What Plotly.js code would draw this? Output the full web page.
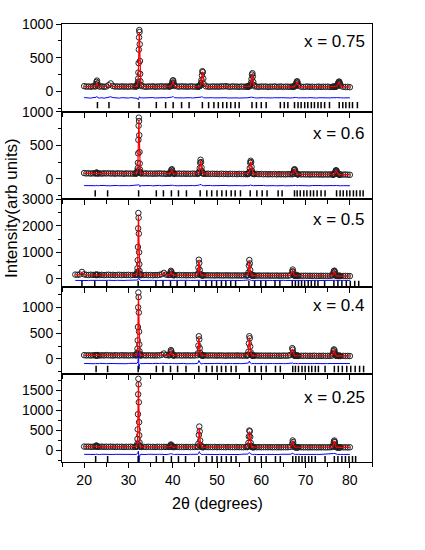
<!DOCTYPE html>
<html>
<head>
<meta charset="utf-8">
<script src="https://cdn.plot.ly/plotly-3.0.1.min.js"></script>
<style>html,body{margin:0;padding:0;background:#fff;}#chart{width:425px;height:550px;}</style>
</head>
<body>
<div id="chart"></div>
<script>
// 2-theta grid shared by all patterns (degrees)
const twoTheta = [
  18.0, 18.5, 19.0, 19.5,
  20.0, 20.5, 21.0, 21.5, 22.0,
  22.5, 22.6, 22.7, 22.8, 22.9, 23.0, 23.1,
  23.5, 24.0, 24.5, 25.0, 25.5, 26.0, 26.5, 27.0, 27.5, 28.0, 28.5, 29.0, 29.5, 30.0, 30.5, 31.0, 31.5,
  31.7, 31.8, 31.9, 31.95, 32.0, 32.05, 32.1, 32.15, 32.2, 32.25, 32.3, 32.35, 32.4, 32.45, 32.5, 32.55, 32.6, 32.65, 32.7, 32.8, 32.9,
  33.5, 34.0, 34.5, 35.0, 35.5, 36.0, 36.5, 37.0, 37.5, 38.0, 38.5, 39.0,
  39.3, 39.4, 39.5, 39.6, 39.7, 39.8, 39.9, 40.0, 40.1, 40.2, 40.3, 40.4,
  41.0, 41.5, 42.0, 42.5, 43.0, 43.5, 44.0, 44.5, 45.0,
  45.6, 45.7, 45.8, 45.9, 46.0, 46.1, 46.2, 46.3, 46.4, 46.5, 46.6, 46.7, 46.8, 46.9, 47.0,
  47.5, 48.0, 48.5, 49.0, 49.5, 50.0, 50.5, 51.0, 51.5, 52.0, 52.5, 53.0, 53.5, 54.0, 54.5, 55.0, 55.5, 56.0, 56.5,
  56.8, 56.9, 57.0, 57.1, 57.2, 57.3, 57.4, 57.5, 57.6, 57.7, 57.8, 57.9, 58.0, 58.1, 58.2, 58.3,
  58.5, 59.0, 59.5, 60.0, 60.5, 61.0, 61.5, 62.0, 62.5, 63.0, 63.5, 64.0, 64.5, 65.0, 65.5, 66.0, 66.5,
  67.0, 67.1, 67.2, 67.3, 67.4, 67.5, 67.6, 67.7, 67.8, 67.9, 68.0, 68.1, 68.2, 68.3, 68.4,
  69.0, 69.5, 70.0, 70.5, 71.0, 71.5, 72.0, 72.5, 73.0, 73.5, 74.0, 74.5, 75.0, 75.5, 76.0,
  76.2, 76.3, 76.4, 76.5, 76.6, 76.7, 76.8, 76.9, 77.0, 77.1, 77.2, 77.3, 77.4, 77.5, 77.6, 77.7, 77.8, 77.9,
  78.5, 79.0, 79.5, 80.0
];

const N = null;

// ---------- x = 0.75 ----------
const obs1 = [
  N, N, N, N,
  78, 70, 74, 68, 76,
  72, 80, 105, 140, 160, 120, 85,
  70, 75, 68, 73, 92, 118, 80, 71, 74, 69, 75, 70, 73, 68, 76, 71, 74,
  72, 75, 80, 85, 92, 100, 115, 140, 190, 280, 420, 620, 800, 910, 880, 700, 450, 260, 150, 95, 78,
  72, 68, 74, 70, 76, 69, 73, 71, 77, 70, 74, 72,
  73, 75, 78, 82, 90, 105, 130, 158, 165, 130, 95, 80,
  74, 70, 76, 71, 73, 69, 75, 72, 70,
  72, 70, 74, 73, 76, 80, 88, 100, 125, 170, 240, 300, 285, 190, 110,
  75, 71, 68, 74, 70, 73, 69, 76, 72, 78, 71, 68, 74, 70, 72, 67, 73, 69, 71,
  70, 72, 70, 74, 73, 76, 80, 88, 100, 130, 185, 250, 270, 220, 140, 95,
  75, 70, 68, 73, 69, 72, 66, 71, 68, 74, 67, 70, 72, 66, 71, 69, 68,
  70, 68, 72, 70, 73, 75, 80, 88, 100, 120, 142, 150, 130, 100, 82,
  70, 66, 69, 72, 67, 70, 65, 68, 71, 66, 69, 67, 70, 65, 68,
  67, 70, 66, 69, 68, 71, 70, 74, 78, 85, 95, 110, 128, 142, 145, 125, 100, 82,
  68, 65, 67, 62
];
const calc1 = [
  N, N, N, N,
  72, 72, 72, 72, 72,
  72, 78, 95, 118, 128, 100, 80,
  73, 72, 72, 72, 76, 90, 74, 72, 72, 71, 71, 71, 71, 71, 71, 71, 71,
  72, 73, 75, 78, 83, 92, 105, 130, 180, 270, 410, 610, 790, 880, 850, 680, 430, 250, 145, 90, 76,
  71, 71, 71, 71, 71, 71, 71, 71, 71, 71, 71, 71,
  71, 72, 74, 77, 84, 98, 120, 145, 150, 120, 90, 76,
  71, 71, 71, 71, 70, 70, 70, 70, 70,
  70, 70, 71, 71, 72, 75, 82, 95, 120, 165, 235, 290, 278, 190, 110,
  72, 70, 70, 70, 70, 70, 70, 70, 70, 70, 70, 70, 70, 70, 70, 69, 69, 69, 69,
  69, 69, 69, 70, 70, 72, 76, 84, 96, 125, 180, 240, 258, 210, 135, 92,
  72, 69, 69, 69, 69, 69, 68, 68, 68, 68, 68, 68, 68, 68, 68, 68, 68,
  68, 68, 68, 68, 69, 70, 74, 82, 95, 115, 135, 142, 124, 96, 80,
  68, 68, 67, 67, 67, 67, 67, 67, 67, 67, 67, 67, 67, 67, 67,
  67, 67, 67, 67, 67, 67, 68, 70, 74, 80, 90, 105, 122, 136, 138, 120, 96, 80,
  67, 66, 66, 66
];
const diff1 = [
  N, N, N, N,
  -92, -98, -95, -100, -93,
  -97, -90, -88, -80, -75, -85, -95,
  -99, -94, -101, -96, -88, -80, -92, -98, -95, -100, -93, -97, -94, -99, -92, -96, -94,
  -95, -93, -96, -98, -100, -104, -110, -118, -125, -120, -112, -105, -95, -88, -80, -85, -92, -97, -96, -94, -95,
  -97, -93, -99, -95, -92, -98, -94, -100, -96, -93, -97, -95,
  -94, -96, -92, -90, -88, -85, -80, -75, -78, -85, -90, -94,
  -96, -99, -93, -97, -95, -100, -94, -98, -96,
  -97, -94, -96, -93, -95, -92, -90, -88, -85, -80, -75, -82, -88, -92, -95,
  -96, -93, -98, -94, -97, -95, -99, -93, -96, -94, -98, -95, -97, -93, -96, -99, -94, -97, -95,
  -96, -94, -97, -95, -93, -96, -94, -92, -90, -88, -85, -87, -90, -92, -94, -96,
  -95, -98, -94, -97, -93, -96, -99, -95, -97, -94, -98, -95, -93, -97, -96, -94, -98,
  -96, -94, -97, -95, -93, -96, -94, -92, -90, -91, -93, -92, -94, -95, -97,
  -95, -98, -94, -96, -93, -97, -95, -99, -94, -96, -93, -98, -95, -97, -94,
  -96, -94, -97, -95, -93, -96, -95, -94, -92, -93, -95, -94, -93, -92, -94, -95, -96, -95,
  -97, -94, -96, -95
];
const bragg1 = [23.0, 25.6, 32.4, 36.3, 38.4, 40.1, 42.0, 43.7, 46.7, 48.1, 49.3, 50.3, 51.3, 52.2, 53.1, 54.1, 55.0,
  57.9, 58.9, 60.0, 61.1, 64.3, 65.2, 66.0, 67.5, 68.3, 69.0, 69.8, 70.5, 71.3, 72.0, 72.8, 73.5, 74.3, 75.4,
  77.6, 78.4, 79.1, 79.9, 80.6, 81.7];

// ---------- x = 0.6 ----------
const obs2 = [
  N, N, N, N,
  88, 82, 86, 80, 84,
  82, 86, 90, 95, 92, 85, 80,
  84, 79, 85, 81, 86, 80, 83, 78, 84, 80, 82, 77, 83, 79, 81, 78, 82,
  80, 84, 88, 95, 105, 125, 160, 240, 380, 580, 790, 910, 860, 650, 400, 230, 140, 105, 92, 85, 81,
  80, 83, 78, 82, 77, 81, 79, 84, 78, 80, 76, 81,
  79, 82, 86, 105, 135, 145, 120, 96, 86, 81, 78, 80,
  78, 81, 76, 80, 77, 79, 75, 80, 77,
  78, 80, 83, 90, 110, 160, 240, 285, 250, 170, 115, 92, 84, 80, 78,
  76, 79, 74, 78, 75, 77, 73, 78, 74, 76, 72, 77, 74, 75, 71, 76, 73, 74, 72,
  73, 75, 74, 78, 85, 105, 160, 240, 270, 250, 180, 120, 95, 82, 77, 74,
  72, 75, 71, 74, 70, 73, 69, 72, 70, 73, 68, 72, 69, 71, 68, 72, 70,
  70, 74, 82, 100, 130, 145, 135, 110, 90, 80, 75, 72, 70, 71, 69,
  68, 71, 67, 70, 66, 69, 67, 70, 66, 68, 65, 69, 66, 68, 67,
  66, 68, 67, 72, 80, 100, 122, 130, 120, 100, 85, 76, 70, 68, 66, 67, 65, 66,
  65, 67, 63, 62
];
const calc2 = [
  N, N, N, N,
  84, 83, 83, 82, 82,
  82, 83, 85, 87, 86, 83, 82,
  81, 81, 81, 81, 80, 80, 80, 80, 80, 80, 79, 79, 79, 79, 79, 79, 79,
  79, 80, 83, 89, 98, 118, 152, 232, 370, 565, 770, 880, 830, 630, 385, 220, 132, 100, 88, 82, 80,
  79, 79, 79, 78, 78, 78, 78, 78, 78, 78, 78, 78,
  78, 79, 83, 100, 128, 138, 114, 92, 83, 79, 78, 78,
  77, 77, 77, 77, 77, 76, 76, 76, 76,
  76, 77, 79, 86, 105, 152, 230, 272, 240, 162, 110, 89, 81, 78, 77,
  75, 75, 75, 75, 75, 74, 74, 74, 74, 74, 74, 74, 73, 73, 73, 73, 73, 73, 73,
  73, 73, 73, 75, 82, 100, 152, 230, 258, 238, 172, 115, 90, 79, 75, 73,
  72, 72, 72, 71, 71, 71, 71, 71, 70, 70, 70, 70, 70, 70, 69, 69, 69,
  69, 72, 80, 97, 125, 138, 128, 105, 87, 77, 73, 71, 70, 69, 69,
  68, 68, 68, 68, 67, 67, 67, 67, 67, 67, 66, 66, 66, 66, 66,
  66, 66, 66, 70, 78, 96, 116, 124, 114, 96, 82, 74, 69, 67, 66, 66, 66, 65,
  65, 65, 64, 64
];
const diff2 = [
  N, N, N, N,
  -98, -101, -97, -102, -99,
  -100, -97, -95, -92, -94, -98, -101,
  -97, -102, -96, -100, -95, -101, -98, -103, -97, -100, -96, -102, -98, -101, -99, -102, -97,
  -100, -96, -95, -94, -93, -93, -92, -92, -90, -88, -85, -80, -82, -87, -95, -110, -115, -105, -100, -97, -99,
  -99, -96, -101, -97, -102, -98, -100, -95, -101, -98, -103, -97,
  -99, -97, -95, -92, -88, -85, -88, -93, -97, -99, -100, -98,
  -101, -97, -102, -98, -100, -96, -101, -97, -100,
  -98, -97, -96, -94, -90, -85, -80, -75, -82, -90, -95, -97, -98, -99, -100,
  -97, -101, -96, -100, -98, -102, -97, -99, -101, -96, -100, -98, -102, -97, -100, -98, -101, -97, -99,
  -100, -98, -101, -97, -99, -96, -94, -92, -90, -93, -97, -99, -100, -98, -101, -99,
  -98, -101, -97, -100, -96, -101, -98, -102, -97, -99, -101, -97, -100, -98, -102, -97, -100,
  -99, -97, -95, -93, -90, -88, -92, -95, -98, -100, -99, -101, -98, -100, -97,
  -100, -97, -101, -98, -102, -97, -100, -99, -101, -98, -100, -97, -101, -99, -98,
  -100, -98, -101, -99, -97, -96, -95, -94, -96, -98, -99, -100, -98, -101, -99, -100, -98, -101,
  -99, -101, -98, -100
];
const bragg2 = [22.5, 25.3, 32.3, 36.3, 37.9, 39.7, 41.3, 43.1, 46.2, 47.7, 48.8, 50.0, 51.1, 52.1, 53.2, 54.1, 55.3,
  57.5, 59.0, 60.2, 61.3, 63.8, 64.7, 67.5, 68.1, 68.8, 69.6, 70.3, 71.1, 71.8, 72.6, 73.5, 74.4,
  77.0, 77.8, 78.5, 79.3, 80.0, 80.8, 81.5, 82.3, 83.0];

// ---------- x = 0.5 ----------
const obs3 = [
  160, 150, 165, 260,
  170, 150, 145, 155, 148,
  152, 146, 150, 143, 155, 148, 150,
  145, 152, 140, 148, 155, 143, 150, 138, 147, 152, 141, 149, 144, 151, 139, 146, 150,
  148, 155, 170, 200, 260, 400, 700, 1200, 1900, 2480, 2300, 1700, 1000, 550, 300, 200, 165, 150, 148, 145, 142,
  140, 147, 138, 145, 136, 143, 140, 150, 170, 225, 160, 145,
  150, 170, 230, 300, 260, 190, 160, 148, 140, 145, 138, 142,
  137, 144, 135, 141, 132, 140, 134, 139, 136,
  150, 200, 420, 720, 600, 330, 190, 150, 140, 135, 138, 132, 136, 130, 134,
  130, 136, 128, 133, 127, 134, 129, 131, 126, 133, 128, 130, 125, 132, 127, 129, 124, 131, 128,
  128, 132, 150, 240, 500, 710, 580, 330, 190, 145, 130, 126, 129, 124, 127, 122,
  125, 121, 127, 119, 124, 120, 126, 118, 123, 119, 125, 117, 122, 118, 124, 116, 135,
  280, 350, 270, 170, 130, 120, 118, 121, 116, 119, 115, 120, 114, 118, 115,
  116, 113, 118, 112, 117, 111, 115, 113, 110, 116, 112, 114, 110, 115, 125,
  150, 220, 290, 310, 260, 180, 135, 118, 112, 115, 110, 113, 108, 112, 109, 111, 107, 110,
  108, 110, 105, 104
];
const calc3 = [
  150, 150, 160, 230,
  160, 150, 148, 148, 148,
  148, 148, 148, 148, 148, 147, 147,
  147, 147, 146, 146, 146, 145, 145, 145, 144, 144, 144, 143, 143, 143, 142, 142, 142,
  142, 146, 160, 190, 250, 385, 680, 1170, 1860, 2400, 2230, 1650, 970, 530, 290, 190, 158, 146, 143, 141, 140,
  139, 139, 138, 138, 137, 137, 137, 140, 160, 210, 150, 138,
  142, 162, 220, 285, 245, 180, 150, 140, 136, 136, 135, 135,
  135, 134, 134, 133, 133, 133, 132, 132, 132,
  145, 195, 405, 690, 580, 320, 180, 142, 133, 131, 131, 130, 130, 130, 130,
  129, 129, 129, 128, 128, 128, 127, 127, 127, 127, 126, 126, 126, 125, 125, 125, 125, 124, 124,
  124, 128, 145, 230, 480, 680, 560, 320, 182, 138, 126, 123, 123, 122, 122, 122,
  121, 121, 121, 120, 120, 120, 119, 119, 119, 119, 118, 118, 118, 118, 117, 117, 130,
  270, 335, 260, 165, 126, 117, 116, 116, 115, 115, 115, 115, 114, 114, 114,
  113, 113, 113, 112, 112, 112, 112, 111, 111, 111, 111, 110, 110, 110, 120,
  145, 212, 280, 298, 250, 172, 128, 113, 110, 110, 109, 109, 109, 108, 108, 108, 108, 107,
  107, 106, 106, 105
];
const diff3 = [
  -60, -65, -55, -50,
  -62, -58, -64, -57, -61,
  -59, -63, -58, -62, -56, -61, -60,
  -64, -57, -62, -59, -55, -63, -58, -61, -56, -64, -59, -62, -57, -60, -63, -58, -61,
  -59, -62, -60, -55, -50, -45, -40, -30, 0, 40, 30, -10, -30, -45, -50, -55, -58, -62, -59, -61, -60,
  -58, -62, -57, -61, -56, -60, -59, -55, -52, -45, -55, -60,
  -58, -55, -50, -45, -48, -55, -58, -61, -57, -60, -62, -58,
  -61, -57, -63, -58, -60, -56, -62, -59, -61,
  -55, -50, -40, -30, -40, -50, -55, -58, -60, -62, -58, -61, -57, -60, -59,
  -62, -57, -60, -58, -63, -56, -61, -59, -62, -57, -60, -58, -63, -57, -61, -59, -62, -58, -60,
  -58, -61, -55, -50, -40, -30, -40, -50, -56, -59, -62, -58, -61, -57, -60, -59,
  -61, -57, -62, -58, -60, -56, -61, -59, -62, -57, -60, -58, -62, -57, -61, -59, -58,
  -50, -45, -52, -56, -58, -60, -59, -61, -57, -60, -58, -62, -57, -60, -59,
  -61, -58, -62, -57, -60, -59, -62, -58, -61, -57, -60, -59, -62, -58, -56,
  -54, -50, -46, -48, -52, -56, -59, -61, -58, -60, -57, -61, -59, -62, -58, -60, -57, -61,
  -59, -62, -58, -60
];
const bragg3 = [19.5, 22.4, 25.1, 32.2, 36.2, 37.8, 39.5, 41.0, 42.9, 45.9, 47.5, 48.8, 49.9, 51.0, 52.0, 53.1, 54.2,
  57.2, 58.5, 59.9, 61.0, 63.1, 64.2, 67.0, 67.7, 68.4, 69.1, 69.8, 70.6, 71.3, 72.1, 72.8, 74.3,
  76.4, 77.3, 78.2, 79.2, 80.1, 81.1, 82.0];

// ---------- x = 0.4 ----------
const obs4 = [
  N, N, N, N,
  74, 68, 72, 66, 71,
  69, 73, 67, 72, 68, 74, 70,
  66, 72, 68, 75, 69, 71, 65, 73, 70, 67, 74, 68, 72, 66, 71, 69, 73,
  70, 74, 82, 95, 125, 200, 360, 620, 1000, 1290, 1200, 900, 530, 280, 150, 100, 82, 75, 72, 70, 68,
  71, 67, 73, 68, 70, 66, 72, 69, 80, 105, 75, 70,
  72, 85, 130, 172, 150, 105, 80, 72, 69, 73, 67, 71,
  68, 72, 66, 70, 67, 71, 65, 69, 68,
  72, 110, 260, 440, 380, 210, 120, 85, 74, 70, 67, 71, 66, 69, 67,
  69, 65, 70, 66, 68, 64, 69, 66, 67, 63, 68, 65, 67, 64, 69, 65, 66, 63, 68,
  66, 70, 82, 140, 300, 440, 400, 240, 130, 88, 72, 68, 65, 67, 63, 66,
  64, 67, 63, 66, 62, 65, 63, 66, 61, 65, 62, 64, 61, 66, 62, 64, 75,
  210, 180, 120, 85, 70, 64, 62, 65, 61, 63, 60, 64, 61, 63, 60,
  62, 60, 63, 59, 62, 60, 63, 58, 61, 59, 62, 58, 61, 60, 65,
  100, 150, 185, 170, 125, 90, 72, 65, 62, 60, 63, 59, 61, 58, 62, 59, 60, 58,
  60, 57, 59, 56
];
const calc4 = [
  N, N, N, N,
  70, 70, 70, 70, 70,
  70, 70, 70, 70, 70, 70, 70,
  70, 70, 70, 70, 69, 69, 69, 69, 69, 69, 69, 69, 69, 69, 69, 69, 69,
  69, 71, 78, 90, 118, 190, 345, 600, 960, 1230, 1140, 860, 505, 265, 140, 95, 78, 72, 70, 69, 68,
  68, 68, 68, 68, 68, 68, 68, 68, 75, 95, 72, 68,
  70, 82, 122, 160, 140, 98, 77, 70, 68, 68, 68, 67,
  67, 67, 67, 67, 67, 67, 66, 66, 66,
  70, 105, 245, 415, 360, 200, 115, 80, 70, 67, 66, 66, 66, 66, 66,
  66, 66, 66, 66, 65, 65, 65, 65, 65, 65, 65, 65, 64, 64, 64, 64, 64, 64, 64,
  64, 67, 78, 133, 285, 415, 380, 228, 124, 84, 70, 66, 64, 64, 64, 63,
  63, 63, 63, 63, 63, 63, 62, 62, 62, 62, 62, 62, 62, 62, 62, 62, 72,
  195, 170, 115, 82, 68, 63, 62, 62, 62, 61, 61, 61, 61, 61, 61,
  61, 61, 61, 60, 60, 60, 60, 60, 60, 60, 60, 60, 60, 60, 63,
  95, 142, 175, 160, 118, 86, 70, 63, 61, 60, 60, 60, 60, 59, 59, 59, 59, 59,
  59, 58, 58, 58
];
const diff4 = [
  N, N, N, N,
  -88, -92, -86, -91, -89,
  -93, -87, -90, -85, -92, -88, -91,
  -86, -93, -89, -91, -87, -94, -88, -90, -92, -86, -91, -89, -93, -87, -90, -88, -92,
  -89, -91, -88, -85, -80, -75, -70, -55, 30, 140, 20, -150, -200, -140, -105, -95, -92, -90, -88, -91, -89,
  -90, -87, -92, -88, -91, -86, -93, -89, -85, -80, -88, -90,
  -89, -86, -80, -75, -82, -87, -90, -92, -88, -91, -87, -90,
  -92, -88, -91, -86, -93, -89, -90, -87, -91,
  -88, -80, -60, -30, -50, -75, -85, -92, -95, -91, -88, -92, -87, -90, -89,
  -91, -87, -92, -88, -90, -86, -93, -89, -91, -87, -92, -88, -90, -86, -91, -89, -92, -87, -90,
  -88, -91, -86, -80, -65, -40, -55, -75, -85, -92, -94, -90, -88, -91, -87, -90,
  -89, -92, -87, -90, -88, -91, -86, -93, -89, -90, -87, -92, -88, -90, -91, -87, -85,
  -70, -80, -88, -92, -90, -88, -91, -87, -90, -89, -92, -88, -90, -87, -91,
  -89, -92, -88, -90, -87, -91, -89, -92, -88, -90, -87, -91, -89, -90, -86,
  -82, -78, -80, -84, -88, -92, -90, -88, -91, -87, -90, -89, -92, -88, -90, -87, -91, -89,
  -90, -88, -91, -89
];
const bragg4 = [22.7, 25.3, 32.2, 36.3, 37.8, 39.5, 41.1, 43.0, 45.9, 47.6, 48.9, 50.0, 51.0, 52.0, 53.2, 54.3,
  57.3, 58.6, 60.0, 61.1, 63.2, 64.3, 67.1, 67.7, 68.4, 69.2, 69.9, 70.7, 71.4, 72.2, 72.9, 74.4,
  76.5, 77.4, 78.3, 79.3, 80.2, 81.2, 82.2, 83.1];

// ---------- x = 0.25 ----------
const obs5 = [
  N, N, N, N,
  88, 82, 86, 80, 84,
  85, 95, 108, 112, 100, 88, 83,
  81, 86, 80, 84, 79, 85, 82, 78, 84, 80, 83, 77, 82, 79, 84, 78, 81,
  80, 85, 95, 115, 160, 280, 520, 900, 1400, 1790, 1650, 1200, 700, 370, 190, 120, 95, 85, 82, 80, 79,
  81, 77, 83, 78, 80, 76, 82, 79, 77, 81, 78, 80,
  79, 88, 115, 140, 120, 95, 82, 78, 80, 76, 79, 77,
  80, 76, 79, 75, 78, 77, 74, 79, 76,
  78, 90, 160, 380, 590, 470, 240, 120, 88, 79, 76, 78, 74, 77, 75,
  77, 74, 76, 73, 78, 72, 76, 74, 75, 71, 77, 73, 75, 72, 76, 73, 74, 71, 75,
  74, 80, 100, 180, 340, 490, 470, 330, 180, 105, 82, 75, 73, 76, 72, 74,
  73, 71, 75, 70, 74, 72, 71, 74, 70, 73, 71, 72, 69, 74, 71, 72, 78,
  160, 240, 200, 120, 85, 74, 71, 73, 69, 72, 70, 71, 68, 72, 69,
  71, 68, 72, 67, 70, 69, 71, 67, 70, 68, 71, 67, 70, 69, 75,
  95, 150, 215, 240, 200, 135, 90, 75, 70, 72, 68, 71, 67, 70, 68, 70, 67, 69,
  68, 70, 66, 70
];
const calc5 = [
  N, N, N, N,
  84, 84, 83, 83, 83,
  84, 90, 100, 103, 94, 86, 82,
  82, 82, 81, 81, 81, 81, 81, 80, 80, 80, 80, 80, 80, 80, 80, 79, 79,
  79, 81, 90, 108, 150, 265, 500, 870, 1350, 1720, 1590, 1160, 675, 355, 180, 112, 90, 82, 80, 79, 78,
  78, 78, 78, 78, 78, 78, 78, 78, 78, 78, 78, 78,
  79, 85, 108, 130, 112, 90, 80, 78, 77, 77, 77, 77,
  77, 77, 76, 76, 76, 76, 76, 76, 75,
  76, 86, 152, 365, 560, 450, 228, 115, 84, 77, 75, 75, 75, 75, 75,
  74, 74, 74, 74, 74, 74, 74, 74, 73, 73, 73, 73, 73, 73, 73, 73, 73, 72, 72,
  72, 77, 96, 172, 325, 465, 450, 315, 172, 100, 79, 73, 72, 72, 72, 72,
  71, 71, 71, 71, 71, 71, 71, 71, 70, 70, 70, 70, 70, 70, 70, 70, 75,
  152, 228, 190, 115, 82, 72, 70, 70, 70, 70, 69, 69, 69, 69, 69,
  69, 69, 69, 69, 69, 68, 68, 68, 68, 68, 68, 68, 68, 68, 72,
  90, 142, 205, 228, 190, 128, 86, 73, 69, 68, 68, 68, 68, 68, 68, 67, 67, 67,
  67, 67, 67, 67
];
const diff5 = [
  N, N, N, N,
  -108, -112, -106, -113, -109,
  -111, -105, -100, -98, -104, -110, -107,
  -112, -106, -110, -108, -113, -105, -111, -107, -109, -114, -106, -110, -108, -112, -105, -111, -108,
  -110, -107, -105, -100, -95, -90, -80, -60, -40, -30, -100, -250, -320, -260, -180, -130, -112, -108, -110, -107, -109,
  -108, -112, -106, -110, -107, -113, -109, -105, -111, -108, -112, -107,
  -110, -106, -95, -90, -98, -105, -109, -112, -107, -110, -106, -111,
  -108, -112, -106, -110, -109, -113, -107, -111, -108,
  -110, -105, -90, -60, -40, -70, -95, -105, -110, -108, -112, -107, -110, -109, -111,
  -108, -112, -106, -110, -107, -113, -109, -111, -106, -110, -108, -112, -107, -110, -109, -113, -106, -110, -108,
  -110, -106, -100, -90, -75, -60, -75, -90, -100, -106, -110, -108, -111, -107, -110, -109,
  -108, -112, -107, -110, -106, -111, -109, -113, -107, -110, -108, -111, -106, -110, -109, -112, -105,
  -90, -75, -85, -100, -107, -110, -108, -111, -107, -110, -109, -112, -106, -110, -108,
  -110, -107, -111, -108, -112, -106, -110, -109, -111, -107, -110, -108, -112, -107, -100,
  -95, -88, -80, -85, -95, -105, -110, -108, -111, -107, -110, -109, -112, -108, -110, -107, -111, -109,
  -110, -108, -111, -109
];
const bragg5 = [22.6, 25.3, 32.2, 36.3, 37.9, 39.7, 41.3, 42.9, 45.9, 47.6, 48.9, 50.0, 51.0, 52.1, 53.2, 54.3,
  57.3, 58.6, 60.0, 61.1, 63.2, 64.3, 67.1, 67.8, 68.5, 69.2, 69.9, 70.7, 71.4, 72.2, 74.4,
  76.5, 77.3, 78.2, 79.0, 79.8, 80.6, 81.3];

const panelLabels = ['x = 0.75', 'x = 0.6', 'x = 0.5', 'x = 0.4', 'x = 0.25'];
const xTickLabels = ['20', '30', '40', '50', '60', '70', '80'];
const xTitle = '2\u03b8 (degrees)';
const yTitle = 'Intensity(arb units)';

// ---------- build ----------
const panels = [
  {obs: obs1, calc: calc1, diff: diff1, bragg: bragg1},
  {obs: obs2, calc: calc2, diff: diff2, bragg: bragg2},
  {obs: obs3, calc: calc3, diff: diff3, bragg: bragg3},
  {obs: obs4, calc: calc4, diff: diff4, bragg: bragg4},
  {obs: obs5, calc: calc5, diff: diff5, bragg: bragg5}
];
// per-panel axis settings (layout only)
const axisCfg = [
  {range: [-300, 1000], dtick: 500, minor: 250, braggY: -205, labelDy: 18},
  {range: [-300, 1000], dtick: 500, minor: 250, braggY: -215, labelDy: 22},
  {range: [-300, 3000], dtick: 1000, minor: 500, braggY: -195, labelDy: 20},
  {range: [-300, 1400], dtick: 500, minor: 250, braggY: -195, labelDy: 19},
  {range: [-300, 1900], dtick: 500, minor: 250, braggY: -230, labelDy: 23}
];

const FONT = 'Liberation Sans, Arial, Helvetica, sans-serif';
const traces = [];
const layout = {
  width: 425, height: 550,
  margin: {l: 62, r: 53, t: 24, b: 88, pad: 0},
  paper_bgcolor: '#ffffff', plot_bgcolor: '#ffffff',
  showlegend: false,
  font: {family: FONT, size: 14, color: '#000'},
  annotations: []
};

const nP = panels.length;
const plotTop = 24, plotH = 550 - 24 - 88;
panels.forEach((p, i) => {
  const k = i + 1;
  const xa = k === 1 ? 'x' : 'x' + k;
  const ya = k === 1 ? 'y' : 'y' + k;
  const d0 = (nP - 1 - i) / nP, d1 = (nP - i) / nP;
  const cfg = axisCfg[i];

  traces.push({
    type: 'scatter', mode: 'markers', x: twoTheta, y: p.obs, xaxis: xa, yaxis: ya,
    marker: {symbol: 'circle-open', size: 5.5, color: '#222', line: {width: 1, color: '#222'}},
    hoverinfo: 'skip'
  });
  traces.push({
    type: 'scatter', mode: 'lines', x: twoTheta, y: p.calc, xaxis: xa, yaxis: ya,
    line: {color: '#ff0000', width: 1.2}, hoverinfo: 'skip'
  });
  traces.push({
    type: 'scatter', mode: 'lines', x: twoTheta, y: p.diff, xaxis: xa, yaxis: ya,
    line: {color: '#0000ff', width: 1}, hoverinfo: 'skip'
  });
  traces.push({
    type: 'scatter', mode: 'markers', x: p.bragg, y: p.bragg.map(() => cfg.braggY), xaxis: xa, yaxis: ya,
    marker: {symbol: 'line-ns', size: 4.5, color: '#000', line: {width: 1.5, color: '#000'}},
    hoverinfo: 'skip'
  });

  const isBottom = k === nP;
  layout[k === 1 ? 'xaxis' : 'xaxis' + k] = {
    domain: [0, 1], anchor: ya, range: [15, 85],
    tickmode: 'array', tickvals: xTickLabels.map(Number), ticktext: xTickLabels,
    showticklabels: isBottom,
    ticks: 'outside', ticklen: 5, tickwidth: 1, tickcolor: '#000',
    minor: {dtick: 5, tick0: 15, ticks: 'outside', ticklen: 4, tickwidth: 1, tickcolor: '#000'},
    showline: true, mirror: true, linecolor: '#000', linewidth: 1,
    showgrid: false, zeroline: false,
    tickfont: {family: FONT, size: 14, color: '#000'},
    matches: k === 1 ? undefined : 'x'
  };
  layout[k === 1 ? 'yaxis' : 'yaxis' + k] = {
    domain: [d0, d1], anchor: xa, range: cfg.range,
    tick0: 0, dtick: cfg.dtick,
    ticks: 'outside', ticklen: 5, tickwidth: 1, tickcolor: '#000',
    minor: {dtick: cfg.minor, ticks: 'outside', ticklen: 3, tickwidth: 1, tickcolor: '#000'},
    showline: true, mirror: true, linecolor: '#000', linewidth: 1,
    showgrid: false, zeroline: false,
    tickfont: {family: FONT, size: 14, color: '#000'}
  };

  const yPix = plotTop + (i * plotH / nP) + cfg.labelDy;
  layout.annotations.push({
    text: panelLabels[i], xref: 'paper', yref: 'paper',
    x: 0.985, y: 1 - (yPix - plotTop) / plotH, xanchor: 'right', yanchor: 'middle',
    showarrow: false, font: {family: FONT, size: 17, color: '#000'}
  });
});

layout.annotations.push({
  text: xTitle, xref: 'paper', yref: 'paper', x: 0.5, y: -0.094,
  xanchor: 'center', yanchor: 'middle', showarrow: false,
  font: {family: FONT, size: 16, color: '#000'}
});
layout.annotations.push({
  text: yTitle, xref: 'paper', yref: 'paper', x: -0.161, y: 0.58,
  xanchor: 'center', yanchor: 'middle', textangle: -90, showarrow: false,
  font: {family: FONT, size: 17, color: '#000'}
});

Plotly.newPlot('chart', traces, layout, {staticPlot: true, displayModeBar: false});
</script>
</body>
</html>
